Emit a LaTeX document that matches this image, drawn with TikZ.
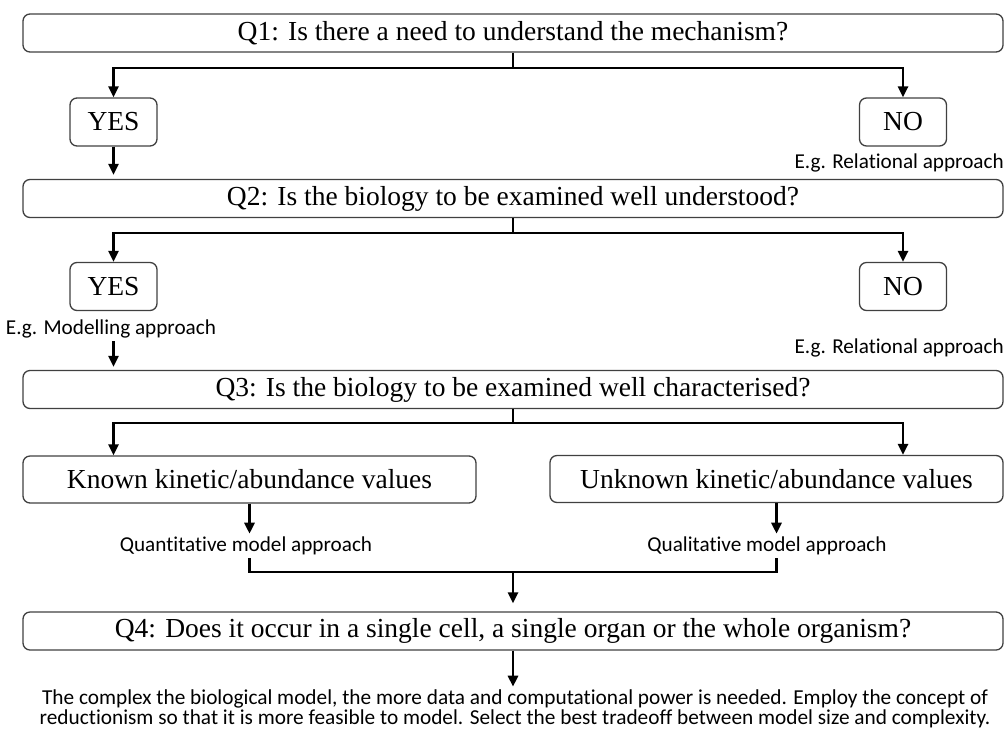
\documentclass[tikz,border=0pt]{standalone}
\usepackage{fontspec}
\usetikzlibrary{arrows.meta,calc}
\newfontfamily\qserif{Liberation Serif}
\newfontfamily\qsans[Ligatures=NoCommon]{Carlito}
\newcommand{\qfont}{\qserif\fontsize{27.5}{32}\selectfont}
\newcommand{\lfont}{\qsans\fontsize{21.2}{23}\selectfont}
\newcommand{\bfontsz}{\qsans\fontsize{21.3}{20}\selectfont}
\tikzset{
  qbox/.style={draw=black!75, line width=1.3pt, rounded corners=7pt, font=\qfont, inner sep=0pt, text=black},
  ynbox/.style={qbox, minimum width=87pt, minimum height=48pt},
  widebox/.style={qbox, minimum width=980pt, minimum height=38pt},
  valbox/.style={qbox, minimum width=453pt, minimum height=47pt},
  lbl/.style={font=\lfont, inner sep=3pt, text=black},
  conn/.style={line width=2.8pt, draw=black},
  arr/.style={conn, -{Triangle[length=11pt,width=10pt]}},
}
\begin{document}
\begin{tikzpicture}[x=1pt,y=1pt]
\useasboundingbox (0,0) rectangle (1006,-732);
% Q1
\node[widebox] (q1) at (513,-33) {Q1: Is there a need to understand the mechanism?};
\node[ynbox] (yes1) at (113.5,-122) {YES};
\node[ynbox] (no1) at (903,-122) {NO};
\node[lbl, anchor=east] (rel1) at (1007,-163) {E.g. Relational approach};
\coordinate (b1) at (513,-68);
\draw[conn] (q1.south) -- (b1);
\draw[arr] (b1) -| (yes1.north);
\draw[arr] (b1) -| (no1.north);
% Q2
\node[widebox] (q2) at (513,-198.5) {Q2: Is the biology to be examined well understood?};
\draw[arr, shorten >=4pt] (yes1.south) -- (yes1.south |- q2.north);
\node[ynbox] (yes2) at (113.5,-286.5) {YES};
\node[ynbox] (no2) at (903,-286.5) {NO};
\node[lbl] (mod) at (111,-329) {E.g. Modelling approach};
\node[lbl, anchor=east] (rel2) at (1007,-348) {E.g. Relational approach};
\coordinate (b2) at (513,-233);
\draw[conn] (q2.south) -- (b2);
\draw[arr] (b2) -| (yes2.north);
\draw[arr] (b2) -| (no2.north);
% Q3
\node[widebox] (q3) at (513,-389.5) {Q3: Is the biology to be examined well characterised?};
\draw[arr, shorten >=3pt] (mod.south -| yes2.south) -- (yes2.south |- q3.north);
\node[valbox] (known) at (249.5,-479.5) {Known kinetic/abundance values};
\node[valbox] (unknown) at (776.5,-479) {Unknown kinetic/abundance values};
\coordinate (b3) at (513,-423);
\draw[conn] (q3.south) -- (b3);
\draw[arr] (b3) -| (yes2.south |- known.north);
\draw[arr] (b3) -| (no2.south |- unknown.north);
\node[lbl] (quan) at (246,-546) {Quantitative model approach};
\node[lbl] (qual) at (767,-546) {Qualitative model approach};
\draw[arr] (known.south) -- (known.south |- quan.north);
\draw[arr] (unknown.south) -- (unknown.south |- qual.north);
\coordinate (j) at (513,-572);
\draw[conn] (quan.south -| known.south) |- (j);
\draw[conn] (qual.south -| unknown.south) |- (j);
% Q4
\node[widebox] (q4) at (513,-631) {Q4: Does it occur in a single cell, a single organ or the whole organism?};
\draw[arr, shorten >=8pt] (j) -- (q4.north);
\node[font=\bfontsz, align=center, inner sep=3pt] (txt) at (515,-709)
  {The complex the biological model, the more data and computational power is needed. Employ the concept of\\
   reductionism so that it is more feasible to model. Select the best tradeoff between model size and complexity.};
\draw[arr] (q4.south) -- (q4.south |- txt.north);
\end{tikzpicture}
\end{document}
